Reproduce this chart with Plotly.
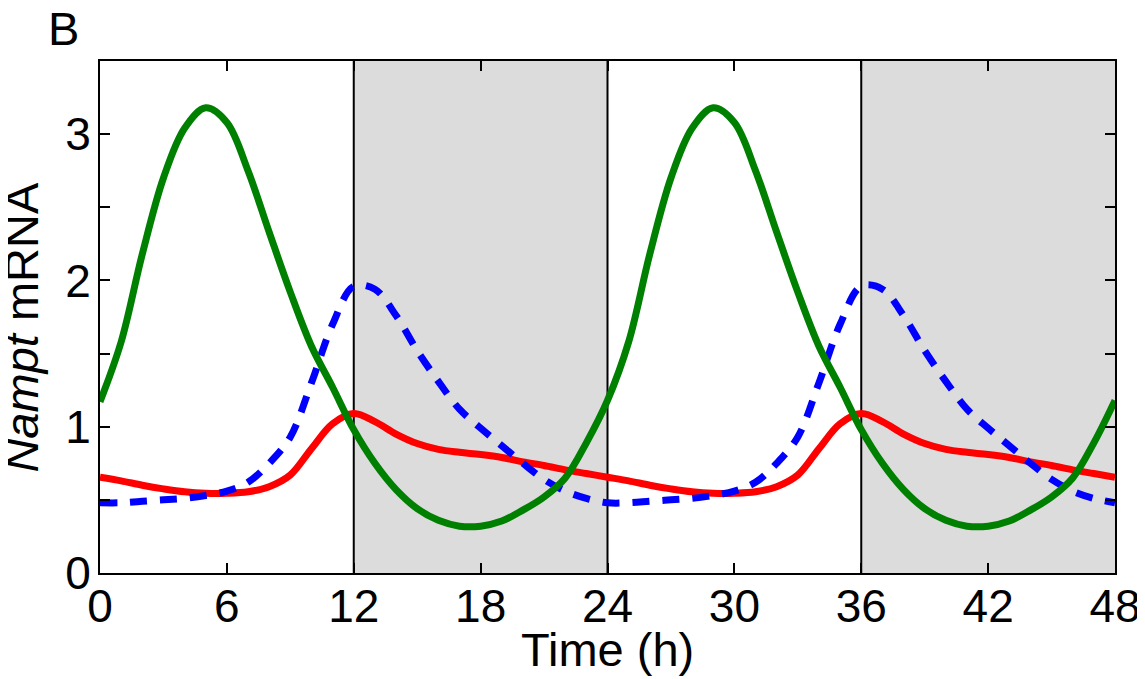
import plotly.graph_objects as go

# ---------------- data ----------------
time_h = list(range(0, 49))

green_vals = [1.17, 1.58, 2.18, 2.70, 3.04, 3.18, 3.08, 2.75, 2.33, 1.92, 1.55, 1.27, 0.98, 0.75,
              0.57, 0.44, 0.36, 0.32, 0.32, 0.355, 0.43, 0.52, 0.65, 0.89,
              1.18, 1.58, 2.18, 2.70, 3.04, 3.18, 3.08, 2.75, 2.33, 1.92, 1.55, 1.27, 0.98, 0.75,
              0.57, 0.44, 0.36, 0.32, 0.32, 0.355, 0.43, 0.52, 0.65, 0.89, 1.18]

blue_vals = [0.48, 0.48, 0.49, 0.50, 0.51, 0.53, 0.56, 0.62, 0.75, 0.93, 1.30, 1.70, 1.96, 1.94,
             1.76, 1.52, 1.31, 1.12, 0.99, 0.87, 0.75, 0.64, 0.56, 0.51,
             0.48, 0.48, 0.49, 0.50, 0.51, 0.53, 0.56, 0.62, 0.75, 0.93, 1.30, 1.70, 1.96, 1.94,
             1.76, 1.52, 1.31, 1.12, 0.99, 0.87, 0.75, 0.64, 0.56, 0.51, 0.48]

red_vals = [0.655, 0.63, 0.60, 0.575, 0.555, 0.545, 0.545, 0.555, 0.59, 0.67, 0.85, 1.02, 1.09, 1.035,
            0.95, 0.885, 0.845, 0.825, 0.81, 0.79, 0.76, 0.735, 0.705, 0.68,
            0.655, 0.63, 0.60, 0.575, 0.555, 0.545, 0.545, 0.555, 0.59, 0.67, 0.85, 1.02, 1.09, 1.035,
            0.95, 0.885, 0.845, 0.825, 0.81, 0.79, 0.76, 0.735, 0.705, 0.68, 0.655]

dark_start = [12, 36]
dark_end = [24, 48]
boundary_lines = [12, 24, 36]

x_ticks = [0, 6, 12, 18, 24, 30, 36, 42, 48]
y_ticks = [0, 1, 2, 3]

FONT = "Liberation Sans, Arial, Helvetica, sans-serif"
LW = 7

fig = go.Figure()

fig.add_trace(go.Scatter(x=time_h, y=red_vals, mode="lines",
                         line=dict(color="#ff0000", width=LW, shape="spline", smoothing=1.0),
                         showlegend=False))
fig.add_trace(go.Scatter(x=time_h, y=blue_vals, mode="lines",
                         line=dict(color="#0000ff", width=LW, shape="spline", smoothing=1.0,
                                   dash="17px,13px"),
                         showlegend=False))
fig.add_trace(go.Scatter(x=time_h, y=green_vals, mode="lines",
                         line=dict(color="#008000", width=LW, shape="spline", smoothing=1.0),
                         showlegend=False))

shapes = []
for s, e in zip(dark_start, dark_end):
    shapes.append(dict(type="rect", xref="x", yref="paper", x0=s, x1=e, y0=0, y1=1,
                       fillcolor="#dcdcdc", line=dict(width=0), layer="below"))
for b in boundary_lines:
    shapes.append(dict(type="line", xref="x", yref="paper", x0=b, x1=b, y0=0, y1=1,
                       line=dict(color="black", width=2), layer="below"))

# the page body adds an 8px offset, so the figure is sized 8px smaller
fig.update_layout(
    width=1137, height=671,
    margin=dict(l=92, r=30, t=53, b=106),
    paper_bgcolor="white", plot_bgcolor="white",
    shapes=shapes,
    font=dict(family=FONT, color="black", size=46),
    annotations=[
        dict(text="<i>Nampt</i> mRNA", xref="paper", yref="paper", x=-0.0775, y=0.48,
             xanchor="center", yanchor="middle", textangle=-90, showarrow=False,
             font=dict(size=47, family=FONT, color="black")),
        dict(text="Time (h)", xref="paper", yref="paper", x=0.5, y=-0.094,
             xanchor="center", yanchor="top", showarrow=False,
             font=dict(size=47, family=FONT, color="black")),
        dict(text="B", xref="paper", yref="paper", x=-0.053, y=1.12,
             xanchor="left", yanchor="top", showarrow=False,
             font=dict(size=47, family=FONT, color="black")),
    ],
)

fig.update_xaxes(range=[0, 48], tickvals=x_ticks, ticktext=[str(v) for v in x_ticks],
                 ticks="inside", ticklen=10, tickwidth=1.5, tickcolor="black",
                 showline=True, linewidth=2, linecolor="black", mirror="ticks",
                 automargin=False, ticklabelstandoff=-8,
                 showgrid=False, zeroline=False, tickfont=dict(size=46, family=FONT, color="black"))
fig.update_yaxes(range=[0, 3.5], tickvals=y_ticks, ticktext=[str(v) for v in y_ticks],
                 ticks="inside", ticklen=10, tickwidth=1.5, tickcolor="black",
                 minor=dict(dtick=0.5, tick0=0, ticks="inside", ticklen=10, tickwidth=1.5, tickcolor="black"),
                 showline=True, linewidth=2, linecolor="black", mirror="ticks",
                 automargin=False, ticklabelstandoff=-2,
                 showgrid=False, zeroline=False, tickfont=dict(size=46, family=FONT, color="black"))

fig.write_html("out.html")
